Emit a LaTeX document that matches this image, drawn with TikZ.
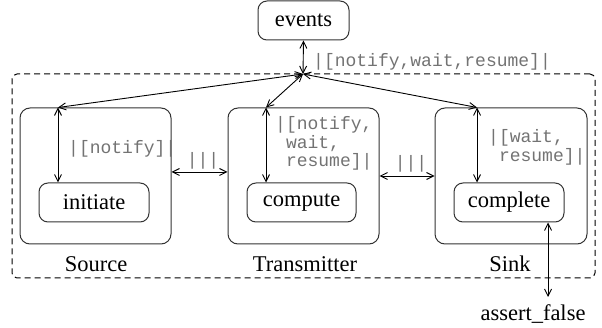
\documentclass[tikz,border=0pt]{standalone}
\usepackage{fontspec}
\setmainfont{Liberation Serif}
\setmonofont{Liberation Mono}
\usetikzlibrary{arrows.meta,calc}
\begin{document}
\begin{tikzpicture}[x=1pt,y=-1pt,
  every node/.style={font=\fontsize{22.5}{26}\selectfont},
  rbox/.style={draw=black!80,line width=1pt,rounded corners=9pt,inner sep=0pt},
  outbox/.style={draw=black!80,line width=1pt,rounded corners=10pt,inner sep=0pt,minimum width=151pt,minimum height=136pt},
  inbox/.style={rbox,minimum width=110pt,minimum height=39pt},
  lbl/.style={text=black!55,font=\fontsize{18}{18.7}\selectfont\ttfamily,inner sep=0pt,align=left},
  conn/.style={line width=0.9pt,{Straight Barb[length=7pt,width=7pt]}-{Straight Barb[length=7pt,width=7pt]}},
  grp/.style={draw=black,line width=1pt,dash pattern=on 6pt off 4pt,rounded corners=5pt,inner sep=0pt,minimum width=583pt,minimum height=204pt}
]
\useasboundingbox (0,0) rectangle (602,328);
% group
\node[grp] (group) at (303.5,176) {};
% events
\node[rbox,minimum width=91pt,minimum height=39pt] (events) at (303.5,20.5) {events};
\coordinate (J) at (303,74);
% component boxes
\node[outbox] (src) at (95.5,176) {};
\node[outbox] (trn) at (303.5,176) {};
\node[outbox,minimum width=152pt] (snk) at (511,176) {};
% inner boxes
\node[inbox] (init) at (94,202.5) {initiate};
\node[inbox,minimum width=109pt] (comp) at (301.5,202.5) {compute};
\node[inbox] (cplt) at (509,202.5) {complete};
% captions
\node (srccap) at (96,264) {Source};
\node (trncap) at (305,264) {Transmitter};
\node (snkcap) at (510,264) {Sink};
\node (af) at (533,314) {assert\_false};
% x positions of vertical links
\coordinate (sx) at (58,0);
\coordinate (tx) at (266,0);
\coordinate (kx) at (477,0);
\coordinate (ax) at (548,0);
\coordinate (afend) at (548,297);
% connectors
\draw[conn] (events.south) -- (J);
\draw[conn] (J) -- (src.north -| sx);
\draw[conn] (J) -- (trn.north -| tx);
\draw[conn] (J) -- (snk.north -| kx);
\draw[conn] (src.north -| sx) -- (init.north -| sx);
\draw[conn] (trn.north -| tx) -- (comp.north -| tx);
\draw[conn] (snk.north -| kx) -- (cplt.north -| kx);
\draw[conn] ([yshift=4pt]src.east) -- ([yshift=4pt]trn.west);
\draw[conn] (trn.east) -- (snk.west);
\draw[conn] (cplt.south -| ax) -- (afend);
% labels
\node[lbl,anchor=west] (l0) at (313,62) {|[notify,wait,resume]|};
\node[lbl,anchor=west] (l1) at (68,149) {|[notify]|};
\node[lbl,anchor=west] (l2) at (275,143.5) {|[notify,\\\phantom{x}wait,\\\phantom{x}resume]|};
\node[lbl,anchor=west] (l3) at (488,147.5) {|[wait,\\\phantom{x}resume]|};
\node[lbl] (p1) at (203,161) {|||};
\node[lbl] (p2) at (411,164) {|||};
\end{tikzpicture}
\end{document}
